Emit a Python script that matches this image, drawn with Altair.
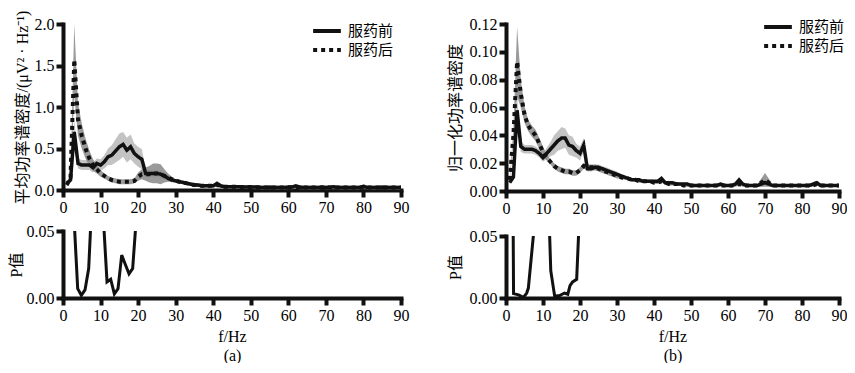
import altair as alt
import pandas as pd

# ---------------- data ----------------
freq = list(range(1, 91))

a_before = [
    0.08, 0.12, 0.70, 0.32, 0.30, 0.30, 0.30, 0.27, 0.32, 0.30,
    0.34, 0.40, 0.42, 0.47, 0.52, 0.55, 0.48, 0.52, 0.44, 0.40,
    0.37, 0.20, 0.20, 0.20, 0.20, 0.19, 0.17, 0.14, 0.12, 0.11,
    0.10, 0.09, 0.08, 0.07, 0.06, 0.06, 0.05, 0.05, 0.05, 0.05,
    0.08, 0.05, 0.04, 0.04, 0.04, 0.04, 0.04, 0.035, 0.035, 0.035,
    0.035, 0.035, 0.03, 0.03, 0.035, 0.03, 0.03, 0.03, 0.03, 0.035,
    0.035, 0.05, 0.035, 0.03, 0.03, 0.03, 0.03, 0.03, 0.035, 0.03,
    0.03, 0.04, 0.03, 0.03, 0.03, 0.03, 0.03, 0.03, 0.03, 0.045,
    0.03, 0.03, 0.03, 0.03, 0.035, 0.03, 0.03, 0.03, 0.03, 0.03]
a_after = [
    0.06, 0.15, 1.57, 0.85, 0.65, 0.50, 0.38, 0.30, 0.25, 0.20,
    0.17, 0.14, 0.12, 0.11, 0.10, 0.10, 0.10, 0.10, 0.11, 0.16,
    0.19, 0.19, 0.19, 0.20, 0.20, 0.19, 0.17, 0.15, 0.13, 0.11,
    0.10, 0.09, 0.08, 0.07, 0.06, 0.06, 0.05, 0.05, 0.05, 0.05,
    0.06, 0.05, 0.04, 0.04, 0.04, 0.04, 0.035, 0.035, 0.035, 0.035,
    0.03, 0.03, 0.03, 0.03, 0.03, 0.03, 0.03, 0.03, 0.03, 0.03,
    0.03, 0.035, 0.03, 0.03, 0.03, 0.03, 0.03, 0.03, 0.03, 0.035,
    0.03, 0.03, 0.03, 0.03, 0.03, 0.03, 0.03, 0.03, 0.03, 0.03,
    0.03, 0.03, 0.03, 0.03, 0.03, 0.03, 0.03, 0.03, 0.03, 0.03]
a_before_err = [
    0.02, 0.03, 0.15, 0.06, 0.06, 0.06, 0.06, 0.06, 0.06, 0.07,
    0.08, 0.10, 0.12, 0.14, 0.16, 0.15, 0.15, 0.15, 0.12, 0.12,
    0.12, 0.05, 0.04, 0.04, 0.04, 0.04, 0.04, 0.03, 0.03, 0.02,
    0.02, 0.02, 0.02, 0.02, 0.02, 0.02, 0.02, 0.02, 0.02, 0.02,
    0.02, 0.02, 0.02, 0.02, 0.02, 0.02, 0.02, 0.02, 0.02, 0.02,
    0.02, 0.02, 0.02, 0.02, 0.02, 0.02, 0.02, 0.02, 0.02, 0.02,
    0.02, 0.02, 0.02, 0.02, 0.02, 0.02, 0.02, 0.02, 0.02, 0.02,
    0.02, 0.02, 0.02, 0.02, 0.02, 0.02, 0.02, 0.02, 0.02, 0.02,
    0.02, 0.02, 0.02, 0.02, 0.02, 0.02, 0.02, 0.02, 0.02, 0.02]
a_after_err = [
    0.02, 0.05, 0.43, 0.20, 0.15, 0.12, 0.10, 0.07, 0.05, 0.04,
    0.03, 0.03, 0.03, 0.03, 0.03, 0.03, 0.03, 0.03, 0.03, 0.05,
    0.06, 0.08, 0.10, 0.12, 0.12, 0.12, 0.08, 0.05, 0.03, 0.02,
    0.02, 0.02, 0.02, 0.02, 0.02, 0.02, 0.02, 0.02, 0.02, 0.02,
    0.02, 0.02, 0.02, 0.02, 0.02, 0.02, 0.02, 0.02, 0.02, 0.02,
    0.02, 0.02, 0.02, 0.02, 0.02, 0.02, 0.02, 0.02, 0.02, 0.02,
    0.02, 0.02, 0.02, 0.02, 0.02, 0.02, 0.02, 0.02, 0.02, 0.02,
    0.02, 0.02, 0.02, 0.02, 0.02, 0.02, 0.02, 0.02, 0.02, 0.02,
    0.02, 0.02, 0.02, 0.02, 0.02, 0.02, 0.02, 0.02, 0.02, 0.02]

b_before = [
    0.006, 0.010, 0.058, 0.032, 0.030, 0.030, 0.030, 0.029, 0.027, 0.024,
    0.027, 0.030, 0.033, 0.036, 0.038, 0.038, 0.033, 0.032, 0.029, 0.027,
    0.033, 0.016, 0.016, 0.017, 0.017, 0.016, 0.015, 0.014, 0.013, 0.012,
    0.011, 0.010, 0.009, 0.008, 0.008, 0.008, 0.007, 0.007, 0.007, 0.007,
    0.007, 0.009, 0.006, 0.006, 0.006, 0.005, 0.005, 0.005, 0.005, 0.004,
    0.004, 0.004, 0.004, 0.004, 0.004, 0.004, 0.004, 0.005, 0.004, 0.004,
    0.004, 0.005, 0.008, 0.005, 0.004, 0.004, 0.004, 0.004, 0.005, 0.006,
    0.005, 0.004, 0.004, 0.004, 0.004, 0.004, 0.004, 0.004, 0.004, 0.004,
    0.004, 0.004, 0.005, 0.006, 0.004, 0.004, 0.004, 0.004, 0.004, 0.004]
b_after = [
    0.008, 0.040, 0.093, 0.070, 0.055, 0.047, 0.043, 0.040, 0.034, 0.028,
    0.024, 0.021, 0.018, 0.016, 0.015, 0.014, 0.014, 0.013, 0.013, 0.015,
    0.018, 0.017, 0.017, 0.017, 0.016, 0.015, 0.014, 0.013, 0.012, 0.011,
    0.010, 0.009, 0.009, 0.008, 0.008, 0.007, 0.007, 0.007, 0.007, 0.006,
    0.006, 0.007, 0.006, 0.005, 0.005, 0.005, 0.005, 0.004, 0.004, 0.004,
    0.004, 0.004, 0.004, 0.004, 0.004, 0.004, 0.004, 0.004, 0.004, 0.004,
    0.004, 0.004, 0.005, 0.004, 0.004, 0.004, 0.004, 0.004, 0.006, 0.008,
    0.006, 0.004, 0.004, 0.004, 0.004, 0.004, 0.004, 0.004, 0.004, 0.004,
    0.004, 0.004, 0.004, 0.005, 0.004, 0.004, 0.004, 0.004, 0.004, 0.004]
b_before_err = [
    0.001, 0.002, 0.010, 0.004, 0.003, 0.003, 0.003, 0.003, 0.003, 0.003,
    0.004, 0.005, 0.007, 0.007, 0.008, 0.007, 0.007, 0.007, 0.005, 0.005,
    0.005, 0.002, 0.002, 0.002, 0.002, 0.002, 0.002, 0.002, 0.002, 0.002,
    0.001, 0.001, 0.001, 0.001, 0.001, 0.001, 0.001, 0.001, 0.001, 0.001,
    0.001, 0.001, 0.001, 0.001, 0.001, 0.001, 0.001, 0.001, 0.001, 0.001,
    0.001, 0.001, 0.001, 0.001, 0.001, 0.001, 0.001, 0.001, 0.001, 0.001,
    0.001, 0.001, 0.001, 0.001, 0.001, 0.001, 0.001, 0.001, 0.001, 0.001,
    0.001, 0.001, 0.001, 0.001, 0.001, 0.001, 0.001, 0.001, 0.001, 0.001,
    0.001, 0.001, 0.001, 0.001, 0.001, 0.001, 0.001, 0.001, 0.001, 0.001]
b_after_err = [
    0.001, 0.005, 0.025, 0.010, 0.006, 0.004, 0.004, 0.004, 0.004, 0.004,
    0.002, 0.002, 0.002, 0.002, 0.002, 0.002, 0.002, 0.002, 0.002, 0.002,
    0.002, 0.002, 0.002, 0.002, 0.002, 0.002, 0.002, 0.002, 0.002, 0.002,
    0.001, 0.001, 0.001, 0.001, 0.001, 0.001, 0.001, 0.001, 0.001, 0.001,
    0.001, 0.001, 0.001, 0.001, 0.001, 0.001, 0.001, 0.001, 0.001, 0.001,
    0.001, 0.001, 0.001, 0.001, 0.001, 0.001, 0.001, 0.001, 0.001, 0.001,
    0.001, 0.001, 0.001, 0.001, 0.001, 0.001, 0.001, 0.001, 0.003, 0.005,
    0.003, 0.001, 0.001, 0.001, 0.001, 0.001, 0.001, 0.001, 0.001, 0.001,
    0.001, 0.001, 0.001, 0.001, 0.001, 0.001, 0.001, 0.001, 0.001, 0.001]

# P values (segments of the curve that lie within 0-0.05)
pa_f = [2.93, 3.91, 4.88, 5.86, 6.84, 7.81,
        10.74, 11.72, 12.7, 13.67, 14.65, 15.63, 16.6, 17.58, 18.55, 19.53]
pa_p = [0.06, 0.007, 0.002, 0.006, 0.022, 0.08,
        0.06, 0.012, 0.014, 0.003, 0.007, 0.032, 0.025, 0.018, 0.022, 0.06]
pa_seg = [1, 1, 1, 1, 1, 1, 2, 2, 2, 2, 2, 2, 2, 2, 2, 2]

pb_f = [1.07, 2.04, 3.38, 4.71, 5.6, 6.04, 8.0,
        11.1, 12.1, 13.15, 14.5, 15.8, 16.7, 17.3, 18.0, 19.1, 20.1]
pb_p = [0.5, 0.0035, 0.0025, 0.0005, 0.004, 0.008, 0.069,
        0.115, 0.022, 0.0015, 0.002, 0.004, 0.003, 0.01, 0.013, 0.015, 0.085]
pb_seg = [1, 1, 1, 1, 1, 1, 1, 2, 2, 2, 2, 2, 2, 2, 2, 2, 2]

groups = ["服药前", "服药后"]
x_ticks = [0, 10, 20, 30, 40, 50, 60, 70, 80, 90]

SERIF = "Liberation Serif"
MIXED = "Liberation Serif, Noto Sans CJK SC"


def spectrum_df(before, after, before_err, after_err):
    rows = []
    for g, m, e in [(groups[0], before, before_err), (groups[1], after, after_err)]:
        for f, v, s in zip(freq, m, e):
            rows.append({"f": f, "group": g, "mean": v, "lo": v - s, "hi": v + s})
    return pd.DataFrame(rows)


def x_enc(title=None):
    return alt.X(
        "f:Q",
        scale=alt.Scale(domain=[0, 90], nice=False, zero=False),
        axis=alt.Axis(values=x_ticks, format="d", title=title, labelFlush=False,
                      titleFont=SERIF, titleFontSize=16, titlePadding=5,
                      titleLineHeight=19),
    )


def spectrum_panel(df, ytitle, ymax, yvals, fmt, lx, ly, w, h, title_pad):
    ysc = alt.Scale(domain=[0, ymax], nice=False)
    yax = alt.Axis(values=yvals, format=fmt, title=ytitle, titlePadding=title_pad)
    base = alt.Chart(df)
    band_b = base.transform_filter(alt.datum.group == groups[0]).mark_area(
        clip=True, color="#bdbdbd", opacity=0.9
    ).encode(x=x_enc(), y=alt.Y("lo:Q", scale=ysc, axis=yax), y2="hi:Q")
    band_a = base.transform_filter(alt.datum.group == groups[1]).mark_area(
        clip=True, color="#888888", opacity=0.85
    ).encode(x=x_enc(), y=alt.Y("lo:Q", scale=ysc, axis=yax), y2="hi:Q")
    dash = alt.StrokeDash(
        "group:N",
        scale=alt.Scale(domain=groups, range=[[1, 0], [4, 4]]),
        legend=alt.Legend(
            title=None, orient="none", legendX=lx, legendY=ly,
            symbolType="M-1.6,0H1.6", symbolSize=300, symbolStrokeWidth=4,
            symbolStrokeColor="#111111", labelFont="Noto Sans CJK SC",
            labelFontSize=15, labelColor="black", labelOffset=10,
            rowPadding=-1, padding=0,
        ),
    )
    line_b = base.transform_filter(alt.datum.group == groups[0]).mark_line(
        clip=True, color="#111111", strokeWidth=3.5
    ).encode(x=x_enc(), y=alt.Y("mean:Q", scale=ysc, axis=yax), strokeDash=dash)
    line_a = base.transform_filter(alt.datum.group == groups[1]).mark_line(
        clip=True, color="#111111", strokeWidth=4
    ).encode(x=x_enc(), y=alt.Y("mean:Q", scale=ysc, axis=yax), strokeDash=dash)
    return alt.layer(band_b, band_a, line_b, line_a).properties(width=w, height=h)


def p_panel(fs, ps, segs, label, w, h, title_pad):
    df = pd.DataFrame({"f": fs, "p": ps, "seg": segs})
    return alt.Chart(df).mark_line(clip=True, color="#111111", strokeWidth=3).encode(
        x=x_enc(["f/Hz", label]),
        y=alt.Y("p:Q", scale=alt.Scale(domain=[0, 0.05], nice=False),
                axis=alt.Axis(values=[0, 0.05], format=".2f", title="P值",
                              titlePadding=title_pad)),
        detail="seg:N",
    ).properties(width=w, height=h)


top_a = spectrum_panel(spectrum_df(a_before, a_after, a_before_err, a_after_err),
                       "平均功率谱密度/(μV² · Hz⁻¹)", 2.0, [0, 0.5, 1.0, 1.5, 2.0], ".1f",
                       253, -4, 338, 166, 4)
top_b = spectrum_panel(spectrum_df(b_before, b_after, b_before_err, b_after_err),
                       "归一化功率谱密度", 0.12, [0, 0.02, 0.04, 0.06, 0.08, 0.10, 0.12], ".2f",
                       261, -8, 333, 167, 6)
bot_a = p_panel(pa_f, pa_p, pa_seg, "(a)", 338, 67, 2)
bot_b = p_panel(pb_f, pb_p, pb_seg, "(b)", 333, 62, 6)

col_a = alt.vconcat(top_a, bot_a, spacing=41, bounds="flush")
col_b = alt.vconcat(top_b, bot_b, spacing=45, bounds="flush")

chart = alt.hconcat(col_a, col_b, spacing=38).resolve_scale(
    strokeDash="independent"
).resolve_legend(strokeDash="independent").properties(
    padding={"left": 0, "right": 0, "top": 2, "bottom": 0}, background="white"
).configure_view(stroke=None).configure_axis(
    grid=False, domainColor="#111111", tickColor="#111111", labelColor="black",
    titleColor="black", domainWidth=4, tickWidth=4, tickSize=7, domainCap="square",
    labelFont=SERIF, labelFontSize=16, labelPadding=2,
    titleFont=MIXED, titleFontSize=16, titleFontWeight="normal",
)

chart.save("out.html", embed_options={"renderer": "svg", "actions": False})
